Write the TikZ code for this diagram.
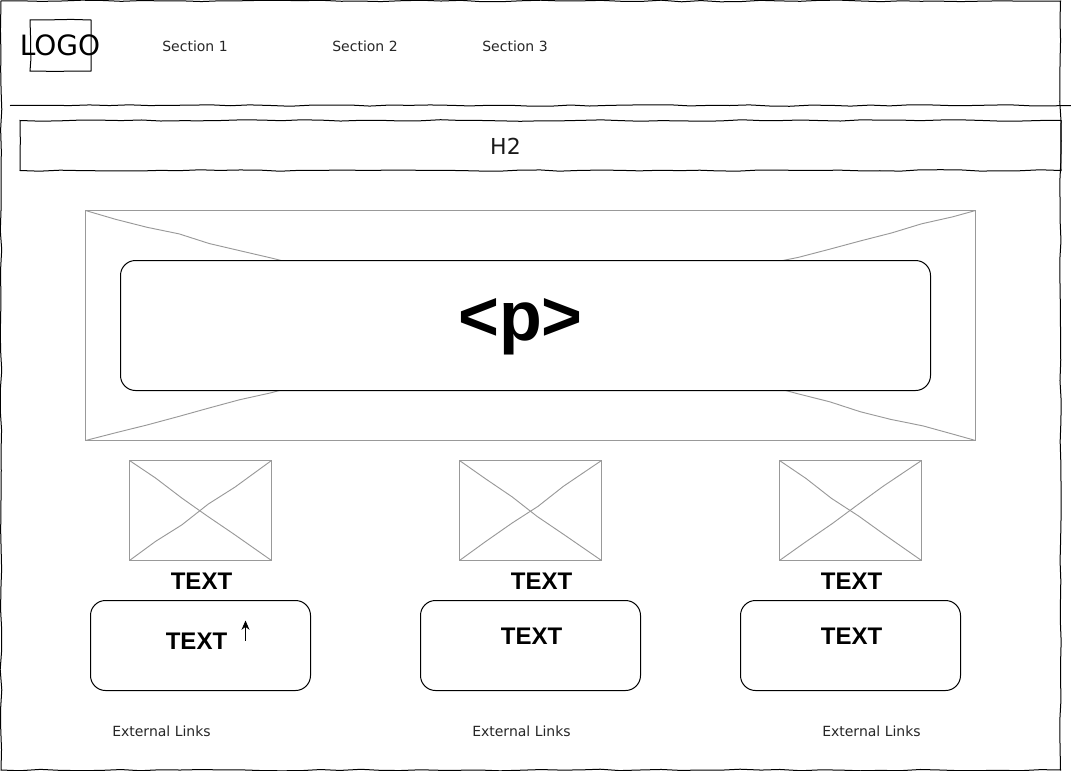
\documentclass[tikz,border=0pt]{standalone}
\usepackage{fontspec}
\setmainfont{DejaVu Sans}
\newfontfamily\arialf{Liberation Sans}
\usetikzlibrary{decorations.pathmorphing,arrows.meta}
\tikzset{
  sketch/.style={draw=black,line width=0.75pt,decorate,decoration={random steps,segment length=15,amplitude=0.6}},
  sketchgray/.style={draw=black!40,line width=0.7pt,decorate,decoration={random steps,segment length=24,amplitude=0.8}},
  imgbox/.style={draw=black!40,line width=0.7pt},
  roundbox/.style={draw=black,line width=0.75pt,fill=white,rounded corners=11.25pt},
  navtext/.style={font=\fontsize{10.5pt}{12pt}\selectfont,text=black!85,inner sep=0pt,anchor=center},
  boldtext/.style={font=\arialf\bfseries\fontsize{18pt}{20pt}\selectfont,inner sep=0pt,anchor=center},
}
\begin{document}
\begin{tikzpicture}[x=0.75pt,y=-0.75pt]
\useasboundingbox (0,0) rectangle (1071,771);
\pgfmathsetseed{7}
% page frame
\coordinate (fa) at (1,1);
\coordinate (fb) at (1060.5,1);
\coordinate (fc) at (1060.5,770);
\coordinate (fd) at (1,770);
\draw[sketch] (fa) -- (fb) -- (fc) -- (fd) -- cycle;
% logo
\coordinate (la) at (30,20);
\coordinate (lb) at (91,71);
\draw[sketch] (la) rectangle (lb);
\node[inner sep=0pt,font=\fontsize{21pt}{24pt}\selectfont] (logo) at (60,45.5) {LOGO};
\node[navtext] (s1) at (195,46) {Section 1};
\node[navtext] (s2) at (365,46) {Section 2};
\node[navtext] (s3) at (515,46) {Section 3};
% divider
\coordinate (da) at (10,105.5);
\coordinate (db) at (1071,105.5);
\draw[sketch] (da) -- (db);
% H2
\coordinate (ha) at (20,120.5);
\coordinate (hb) at (1061,170.5);
\draw[sketch] (ha) rectangle (hb);
\node[inner sep=0pt,font=\fontsize{16.5pt}{20pt}\selectfont,text=black!90] (h2) at (505.5,146) {H2};
% hero image
\coordinate (ia) at (85.5,210.5);
\coordinate (ib) at (975.5,210.5);
\coordinate (ic) at (975.5,440.5);
\coordinate (id) at (85.5,440.5);
\draw[imgbox] (ia) rectangle (ic);
\draw[sketchgray] (ia) -- (ic);
\draw[sketchgray] (id) -- (ib);
\node[roundbox,minimum width=607.5pt,minimum height=97.5pt,inner sep=0pt] (para) at (525.5,325.5) {};
\node[font=\arialf\bfseries\fontsize{52.5pt}{56pt}\selectfont,inner sep=0pt] (ptext) at (520.5,327) {<p>};
% small images
\foreach \n/\xl/\xr in {A/129.5/271.5,B/459.5/601.5,C/779.5/921.5}{
  \coordinate (\n a) at (\xl,460.5);
  \coordinate (\n b) at (\xr,460.5);
  \coordinate (\n c) at (\xr,560.5);
  \coordinate (\n d) at (\xl,560.5);
  \draw[imgbox] (\n a) rectangle (\n c);
  \draw[sketchgray] (\n a) -- (\n c);
  \draw[sketchgray] (\n d) -- (\n b);
}
% captions
\node[boldtext] (t1) at (201.5,581) {TEXT};
\node[boldtext] (t2) at (541.5,581) {TEXT};
\node[boldtext] (t3) at (851.5,581) {TEXT};
% cards
\node[roundbox,minimum width=165pt,minimum height=67.5pt,inner sep=0pt] (c1) at (200.5,645.5) {};
\node[roundbox,minimum width=165pt,minimum height=67.5pt,inner sep=0pt] (c2) at (530.5,645.5) {};
\node[roundbox,minimum width=165pt,minimum height=67.5pt,inner sep=0pt] (c3) at (850.5,645.5) {};
\node[boldtext] (t4) at (196.5,641) {TEXT};
\node[boldtext] (t5) at (531.5,636) {TEXT};
\node[boldtext] (t6) at (851.5,636) {TEXT};
% small arrow
\coordinate (ar1) at (245.5,640.5);
\coordinate (ar2) at (245.5,620.5);
\draw[line width=0.75pt,-{Stealth[length=7pt,width=6pt]}] (ar1) -- (ar2);
% links
\node[navtext] (e1) at (161.5,731) {External Links};
\node[navtext] (e2) at (521.5,731) {External Links};
\node[navtext] (e3) at (871.5,731) {External Links};
\end{tikzpicture}
\end{document}
